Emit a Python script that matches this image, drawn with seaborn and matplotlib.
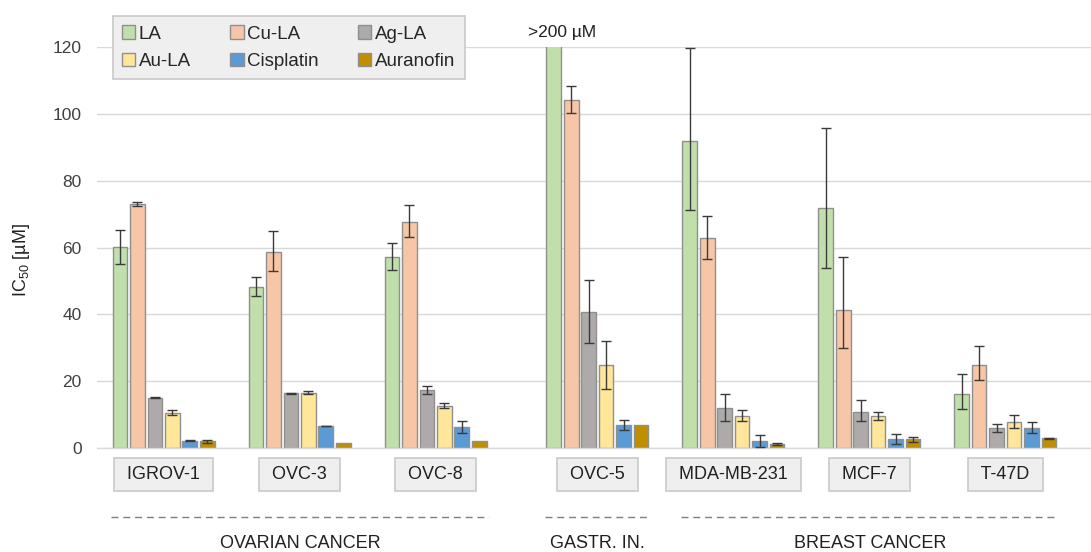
import matplotlib
matplotlib.use("Agg")
import matplotlib.pyplot as plt
import numpy as np
import pandas as pd
import seaborn as sns

# Cell lines, their x positions (gap after the ovarian panel) and tissue groups
cell_lines = ["IGROV-1", "OVC-3", "OVC-8", "OVC-5", "MDA-MB-231", "MCF-7", "T-47D"]
positions = [0.0, 1.0, 2.0, 3.19, 4.19, 5.19, 6.19]
compounds = ["LA", "Cu-LA", "Ag-LA", "Au-LA", "Cisplatin", "Auranofin"]
colors = ["#c1dfab", "#f6c6a6", "#aeaaaa", "#ffe699", "#5b9bd5", "#bf8f00"]

# IC50 values (µM); OVC-5 LA is >200 µM
ic50 = {
    "LA":        [60.1, 48.1, 57.3, 200.0, 91.9, 71.8, 16.1],
    "Cu-LA":     [73.0, 58.6, 67.7, 104.2, 62.7, 41.4, 24.8],
    "Ag-LA":     [15.1, 16.4, 17.5, 40.8, 12.1, 10.9, 5.9],
    "Au-LA":     [10.6, 16.6, 12.7, 24.8, 9.7, 9.6, 7.8],
    "Cisplatin": [2.2, 6.6, 6.3, 6.9, 2.1, 2.7, 6.1],
    "Auranofin": [2.0, 1.6, 2.1, 6.9, 1.2, 2.6, 2.9],
}
# error bars: upper / lower deviation
err_up = {
    "LA":        [5.1, 3.0, 4.0, 0.0, 27.8, 24.0, 6.0],
    "Cu-LA":     [0.6, 6.3, 5.1, 4.2, 6.8, 15.8, 5.8],
    "Ag-LA":     [0.2, 0.2, 1.2, 9.4, 4.0, 3.6, 1.2],
    "Au-LA":     [0.8, 0.4, 0.8, 7.2, 1.6, 1.2, 2.0],
    "Cisplatin": [0.1, 0.1, 1.8, 1.6, 1.9, 1.5, 1.6],
    "Auranofin": [0.4, 0.0, 0.0, 0.0, 0.2, 0.7, 0.2],
}
err_lo = {
    "LA":        [5.0, 2.5, 4.0, 0.0, 20.6, 18.0, 4.3],
    "Cu-LA":     [0.6, 5.5, 4.6, 4.0, 6.2, 11.5, 4.6],
    "Ag-LA":     [0.2, 0.2, 1.2, 9.4, 4.0, 2.7, 1.2],
    "Au-LA":     [0.8, 0.4, 0.8, 7.2, 1.6, 1.2, 1.8],
    "Cisplatin": [0.1, 0.1, 1.8, 1.6, 1.9, 1.5, 1.6],
    "Auranofin": [0.4, 0.0, 0.0, 0.0, 0.2, 0.7, 0.2],
}
y_ticks = [0, 20, 40, 60, 80, 100, 120]
tissues = ["OVARIAN CANCER", "GASTR. IN.", "BREAST CANCER"]
tissue_members = [["IGROV-1", "OVC-3", "OVC-8"], ["OVC-5"], ["MDA-MB-231", "MCF-7", "T-47D"]]

rows = []
for c in compounds:
    for i, cl in enumerate(cell_lines):
        rows.append({"pos": positions[i], "line": cl, "compound": c, "ic50": ic50[c][i]})
df = pd.DataFrame(rows)

sns.set_theme(style="white")
plt.rcParams["font.family"] = ["Liberation Sans", "DejaVu Sans"]
plt.rcParams["mathtext.fontset"] = "custom"
plt.rcParams["mathtext.rm"] = "Liberation Sans"
plt.rcParams["mathtext.it"] = "Liberation Sans:italic"

fig = plt.figure(figsize=(10.91, 5.52), dpi=100)
ax = fig.add_axes([97 / 1091, 1 - 448 / 552, 1 - 97 / 1091, (448 - 47) / 552])

sns.barplot(data=df, x="pos", y="ic50", hue="compound", hue_order=compounds,
            palette=colors, saturation=1, native_scale=True, width=0.77,
            gap=0.16, edgecolor="#8f8f8f", linewidth=1.0, errorbar=None,
            ax=ax, legend=False)

# asymmetric error bars on each bar
order = np.argsort(positions)
for ci, c in enumerate(compounds):
    cont = ax.containers[ci]
    for k, bar in enumerate(cont):
        i = order[k]
        up, lo = err_up[c][i], err_lo[c][i]
        if up == 0 and lo == 0:
            continue
        xc = bar.get_x() + bar.get_width() / 2
        ax.errorbar(xc, ic50[c][i], yerr=[[lo], [up]], fmt="none",
                    ecolor="#3a3a3a", elinewidth=1.0, capsize=3.5, capthick=1.0,
                    zorder=5)

ax.set_ylim(0, 120)
ax.set_xlim(-0.49, 6.82)
ax.set_yticks(y_ticks)
ax.set_yticklabels([str(t) for t in y_ticks], fontsize=12.5, color="#404040")
ax.tick_params(axis="y", length=0, pad=11)
ax.set_xticks([])
ax.set_xlabel("")
ax.yaxis.grid(True, color="#d9d9d9", linewidth=1.0)
ax.set_axisbelow(True)
for s in ["top", "right", "left"]:
    ax.spines[s].set_visible(False)
ax.spines["bottom"].set_color("#d9d9d9")
ax.spines["bottom"].set_linewidth(1.0)
ax.set_ylabel("IC$_{50}$ [µM]", fontsize=13, color="#202020")
ax.yaxis.set_label_coords(-0.0654, 0.469)

# value marker for the truncated bar
la_ovc5 = ax.containers[0][order.tolist().index(3)]
ax.annotate(">200 µM", xy=(la_ovc5.get_x() + la_ovc5.get_width() / 2, 120),
            xytext=(6, 7), textcoords="offset points", ha="center",
            va="baseline", fontsize=12.5, color="#202020", annotation_clip=False)

# cell-line name boxes below the axis
tr = ax.get_xaxis_transform()
for i, cl in enumerate(cell_lines):
    ax.text(positions[i], -0.067, f" {cl} ", transform=tr, ha="center",
            va="center", fontsize=13, color="#202020",
            bbox=dict(boxstyle="square,pad=0.45", fc="#efefef", ec="#c9c9c9",
                      lw=1.2), clip_on=False)

# tissue groups: dashed rule and caption
pos_of = dict(zip(cell_lines, positions))
for name, members in zip(tissues, tissue_members):
    x0 = pos_of[members[0]] - 0.385
    x1 = pos_of[members[-1]] + 0.39
    ax.plot([x0, x1], [-0.171, -0.171], transform=tr, clip_on=False,
            color="#7f7f7f", lw=1.0, linestyle=(0, (5, 3.5)))
    ax.text((x0 + x1) / 2, -0.2485, name, transform=tr, ha="center",
            va="baseline", fontsize=13, color="#202020", clip_on=False)

# legend, filled row-wise
handles = [plt.Rectangle((0, 0), 1, 1, fc=col, ec="#8f8f8f", lw=1.0) for col in colors]
idx = [0, 3, 1, 4, 2, 5]
leg = ax.legend([handles[j] for j in idx], [compounds[j] for j in idx], ncol=3,
                loc="upper left", bbox_to_anchor=(0.0158, 1.077),
                borderaxespad=0, frameon=True, fancybox=False, fontsize=13.5,
                handlelength=0.7, handleheight=0.7, handletextpad=0.2,
                columnspacing=2.1, labelspacing=0.55, borderpad=0.5)
leg.get_frame().set_facecolor("#efefef")
leg.get_frame().set_edgecolor("#c9c9c9")
leg.get_frame().set_linewidth(1.2)
leg.get_frame().set_alpha(1.0)
leg.set_zorder(10)

fig.savefig("out.png", dpi=100)
